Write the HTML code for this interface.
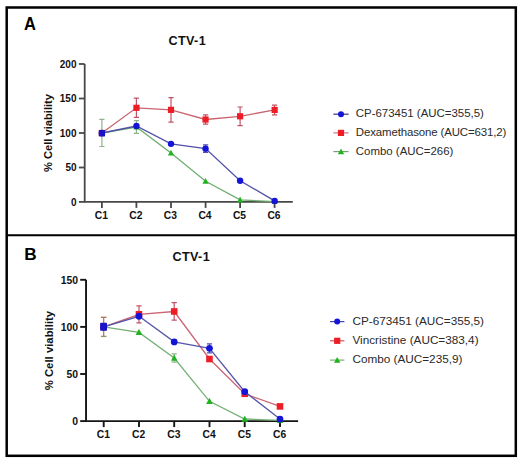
<!DOCTYPE html>
<html><head><meta charset="utf-8"><style>
html,body{margin:0;padding:0;background:#fff;}
body{width:520px;height:458px;overflow:hidden;}
svg{display:block;font-family:"Liberation Sans",sans-serif;}
.pl{font-weight:bold;font-size:17.2px;fill:#000;}
.ti{font-weight:bold;font-size:12.6px;letter-spacing:0.4px;fill:#111;}
.tl{font-weight:bold;font-size:10.3px;fill:#111;}
.yl{font-weight:bold;font-size:11.2px;fill:#111;}
.lg{fill:#2a2a2a;}
</style></head><body>
<svg width="520" height="458" viewBox="0 0 520 458">
<rect width="520" height="458" fill="#fff"/>
<rect x="6.7" y="7.5" width="509.1" height="448.3" fill="none" stroke="#000" stroke-width="2.5"/>
<path d="M6,235.2H516" stroke="#000" stroke-width="2"/>
<text transform="translate(24.1,29.55) scale(0.96,1.075)" class="pl">A</text>
<text x="24.3" y="259.9" class="pl">B</text>
<text x="168.4" y="45.2" class="ti">CTV-1</text>
<text x="172.4" y="260.7" class="ti">CTV-1</text>
<text transform="translate(52.3,133.0) rotate(-90)" text-anchor="middle" class="yl" style="font-size:11.15px">% Cell viability</text>
<text transform="translate(52.8,350.6) rotate(-90)" text-anchor="middle" class="yl" style="font-size:11.35px">% Cell viability</text>
<path d="M84.70,64.0V201.9H292.8" stroke="#484848" stroke-width="1.8" fill="none"/>
<path d="M78.9,201.9H84.7" stroke="#484848" stroke-width="1.8"/>
<text x="76.5" y="205.5" text-anchor="end" class="tl" style="font-size:10.0px">0</text>
<path d="M78.9,167.5H84.7" stroke="#484848" stroke-width="1.8"/>
<text x="76.5" y="171.1" text-anchor="end" class="tl" style="font-size:10.0px">50</text>
<path d="M78.9,133.0H84.7" stroke="#484848" stroke-width="1.8"/>
<text x="76.5" y="136.6" text-anchor="end" class="tl" style="font-size:10.0px">100</text>
<path d="M78.9,98.5H84.7" stroke="#484848" stroke-width="1.8"/>
<text x="76.5" y="102.1" text-anchor="end" class="tl" style="font-size:10.0px">150</text>
<path d="M78.9,64.0H84.7" stroke="#484848" stroke-width="1.8"/>
<text x="76.5" y="67.6" text-anchor="end" class="tl" style="font-size:10.0px">200</text>
<path d="M101.9,201.9V207.9" stroke="#484848" stroke-width="1.8"/>
<text x="101.3" y="218.6" text-anchor="middle" class="tl">C1</text>
<path d="M136.4,201.9V207.9" stroke="#484848" stroke-width="1.8"/>
<text x="135.8" y="218.6" text-anchor="middle" class="tl">C2</text>
<path d="M171.0,201.9V207.9" stroke="#484848" stroke-width="1.8"/>
<text x="170.4" y="218.6" text-anchor="middle" class="tl">C3</text>
<path d="M205.6,201.9V207.9" stroke="#484848" stroke-width="1.8"/>
<text x="205.0" y="218.6" text-anchor="middle" class="tl">C4</text>
<path d="M240.1,201.9V207.9" stroke="#484848" stroke-width="1.8"/>
<text x="239.5" y="218.6" text-anchor="middle" class="tl">C5</text>
<path d="M274.6,201.9V207.9" stroke="#484848" stroke-width="1.8"/>
<text x="274.0" y="218.6" text-anchor="middle" class="tl">C6</text>
<path d="M86.05,279.8V421.1H298.1" stroke="#151515" stroke-width="1.9" fill="none"/>
<path d="M80.2,421.1H86.0" stroke="#151515" stroke-width="1.9"/>
<text x="78.0" y="424.8" text-anchor="end" class="tl" style="font-size:10.4px">0</text>
<path d="M80.2,374.0H86.0" stroke="#151515" stroke-width="1.9"/>
<text x="78.0" y="377.7" text-anchor="end" class="tl" style="font-size:10.4px">50</text>
<path d="M80.2,326.9H86.0" stroke="#151515" stroke-width="1.9"/>
<text x="78.0" y="330.6" text-anchor="end" class="tl" style="font-size:10.4px">100</text>
<path d="M80.2,279.8H86.0" stroke="#151515" stroke-width="1.9"/>
<text x="78.0" y="283.5" text-anchor="end" class="tl" style="font-size:10.4px">150</text>
<path d="M103.7,421.1V427.1" stroke="#151515" stroke-width="1.9"/>
<text x="103.4" y="437.8" text-anchor="middle" class="tl">C1</text>
<path d="M139.0,421.1V427.1" stroke="#151515" stroke-width="1.9"/>
<text x="138.7" y="437.8" text-anchor="middle" class="tl">C2</text>
<path d="M174.2,421.1V427.1" stroke="#151515" stroke-width="1.9"/>
<text x="173.9" y="437.8" text-anchor="middle" class="tl">C3</text>
<path d="M209.5,421.1V427.1" stroke="#151515" stroke-width="1.9"/>
<text x="209.2" y="437.8" text-anchor="middle" class="tl">C4</text>
<path d="M244.7,421.1V427.1" stroke="#151515" stroke-width="1.9"/>
<text x="244.4" y="437.8" text-anchor="middle" class="tl">C5</text>
<path d="M280.0,421.1V427.1" stroke="#151515" stroke-width="1.9"/>
<text x="279.7" y="437.8" text-anchor="middle" class="tl">C6</text>
<polyline points="101.9,133.0 136.4,127.0 171.0,153.0 205.6,181.3 240.1,199.9 274.6,201.6" fill="none" stroke="#6eae6e" stroke-width="1.3"/>
<polyline points="101.9,133.0 136.4,107.8 171.0,109.9 205.6,119.5 240.1,116.3 274.6,109.9" fill="none" stroke="#c86470" stroke-width="1.3"/>
<polyline points="101.9,133.0 136.4,126.0 171.0,143.9 205.6,148.6 240.1,180.7 274.6,200.9" fill="none" stroke="#5050a8" stroke-width="1.3"/>
<path d="M101.9,119.4V146.5M99.3,119.4h5.2M99.3,146.5h5.2" stroke="#90b490" stroke-width="1.2" fill="none"/>
<path d="M136.4,120.7V133.4M133.8,120.7h5.2M133.8,133.4h5.2" stroke="#90b490" stroke-width="1.2" fill="none"/>
<path d="M136.4,98.1V117.4M133.8,98.1h5.2M133.8,117.4h5.2" stroke="#c05468" stroke-width="1.2" fill="none"/>
<path d="M171.0,97.7V122.1M168.4,97.7h5.2M168.4,122.1h5.2" stroke="#c05468" stroke-width="1.2" fill="none"/>
<path d="M205.6,114.8V124.2M203.0,114.8h5.2M203.0,124.2h5.2" stroke="#c05468" stroke-width="1.2" fill="none"/>
<path d="M240.1,107.0V125.6M237.5,107.0h5.2M237.5,125.6h5.2" stroke="#c05468" stroke-width="1.2" fill="none"/>
<path d="M274.6,105.1V114.8M272.0,105.1h5.2M272.0,114.8h5.2" stroke="#c05468" stroke-width="1.2" fill="none"/>
<path d="M205.6,144.8V152.4M203.0,144.8h5.2M203.0,152.4h5.2" stroke="#5050b8" stroke-width="1.2" fill="none"/>
<path d="M101.90,129.67L105.00,135.47H98.80Z" fill="#1fb31f"/>
<path d="M136.45,123.74L139.55,129.54H133.35Z" fill="#1fb31f"/>
<path d="M171.00,149.67L174.10,155.47H167.90Z" fill="#1fb31f"/>
<path d="M205.55,177.96L208.65,183.76H202.45Z" fill="#1fb31f"/>
<path d="M240.10,196.58L243.20,202.38H237.00Z" fill="#1fb31f"/>
<path d="M274.65,198.31L277.75,204.11H271.55Z" fill="#1fb31f"/>
<rect x="98.80" y="129.87" width="6.20" height="6.20" fill="#ee1c24"/>
<rect x="133.35" y="104.69" width="6.20" height="6.20" fill="#ee1c24"/>
<rect x="167.90" y="106.76" width="6.20" height="6.20" fill="#ee1c24"/>
<rect x="202.45" y="116.42" width="6.20" height="6.20" fill="#ee1c24"/>
<rect x="237.00" y="113.18" width="6.20" height="6.20" fill="#ee1c24"/>
<rect x="271.55" y="106.83" width="6.20" height="6.20" fill="#ee1c24"/>
<circle cx="101.90" cy="132.97" r="3.20" fill="#1414d8"/>
<circle cx="136.45" cy="126.00" r="3.20" fill="#1414d8"/>
<circle cx="171.00" cy="143.87" r="3.20" fill="#1414d8"/>
<circle cx="205.55" cy="148.63" r="3.20" fill="#1414d8"/>
<circle cx="240.10" cy="180.70" r="3.20" fill="#1414d8"/>
<circle cx="274.65" cy="200.92" r="3.20" fill="#1414d8"/>
<rect x="98.85" y="130.00" width="6.2" height="6.6" rx="0.8" fill="#1a12c8"/>
<polyline points="103.7,326.9 139.0,332.4 174.2,358.0 209.5,401.3 244.7,419.0 280.0,420.3" fill="none" stroke="#74b074" stroke-width="1.3"/>
<polyline points="103.7,326.9 139.0,314.3 174.2,311.5 209.5,359.0 244.7,393.8 280.0,406.4" fill="none" stroke="#cc6472" stroke-width="1.3"/>
<polyline points="103.7,326.9 139.0,316.3 174.2,341.9 209.5,348.3 244.7,391.7 280.0,419.0" fill="none" stroke="#5656aa" stroke-width="1.3"/>
<path d="M103.7,317.3V326.9" stroke="#b86a60" stroke-width="1.2"/>
<path d="M103.7,326.9V336.4" stroke="#b86a60" stroke-width="1.2"/>
<path d="M100.9,317.3h5.6" stroke="#a88060" stroke-width="1.4"/>
<path d="M100.9,336.4h5.6" stroke="#8a9a68" stroke-width="1.4"/>
<path d="M174.2,353.8V362.1M171.6,353.8h5.2M171.6,362.1h5.2" stroke="#90b490" stroke-width="1.2" fill="none"/>
<path d="M139.0,305.8V322.8M136.4,305.8h5.2M136.4,322.8h5.2" stroke="#c05468" stroke-width="1.2" fill="none"/>
<path d="M174.2,302.7V320.2M171.6,302.7h5.2M171.6,320.2h5.2" stroke="#c05468" stroke-width="1.2" fill="none"/>
<path d="M209.5,343.8V352.8M206.9,343.8h5.2M206.9,352.8h5.2" stroke="#5050b8" stroke-width="1.2" fill="none"/>
<path d="M103.70,323.40L106.99,329.55H100.41Z" fill="#1fb31f"/>
<path d="M138.96,328.87L142.25,335.01H135.67Z" fill="#1fb31f"/>
<path d="M174.22,354.49L177.51,360.64H170.93Z" fill="#1fb31f"/>
<path d="M209.48,397.82L212.77,403.97H206.19Z" fill="#1fb31f"/>
<path d="M244.74,415.53L248.03,421.68H241.45Z" fill="#1fb31f"/>
<path d="M280.00,416.85L283.29,423.00H276.71Z" fill="#1fb31f"/>
<rect x="100.41" y="323.61" width="6.57" height="6.57" fill="#ee1c24"/>
<rect x="135.67" y="310.99" width="6.57" height="6.57" fill="#ee1c24"/>
<rect x="170.93" y="308.17" width="6.57" height="6.57" fill="#ee1c24"/>
<rect x="206.19" y="355.74" width="6.57" height="6.57" fill="#ee1c24"/>
<rect x="241.45" y="390.50" width="6.57" height="6.57" fill="#ee1c24"/>
<rect x="276.71" y="403.12" width="6.57" height="6.57" fill="#ee1c24"/>
<circle cx="103.70" cy="326.90" r="3.39" fill="#1414d8"/>
<circle cx="138.96" cy="316.26" r="3.39" fill="#1414d8"/>
<circle cx="174.22" cy="341.88" r="3.39" fill="#1414d8"/>
<circle cx="209.48" cy="348.28" r="3.39" fill="#1414d8"/>
<circle cx="244.74" cy="391.71" r="3.39" fill="#1414d8"/>
<circle cx="280.00" cy="419.03" r="3.39" fill="#1414d8"/>
<rect x="100.20" y="322.80" width="6.8" height="8.0" rx="0.8" fill="#1a14c8"/>
<path d="M333.4,114.2H348.6" stroke="#363670" stroke-width="1.2"/>
<circle cx="341.0" cy="114.2" r="3" fill="#1414d8"/>
<text x="355.8" y="117.2" class="lg" style="font-size:11.45px">CP-673451 (AUC=355,5)</text>
<path d="M333.4,132.9H348.6" stroke="#c47886" stroke-width="1.2"/>
<rect x="337.9" y="129.8" width="6.2" height="6.2" fill="#ee1c24"/>
<text x="355.8" y="136.0" class="lg" style="font-size:11.45px" textLength="150.6" lengthAdjust="spacing">Dexamethasone (AUC=631,2)</text>
<path d="M333.4,151.6H348.6" stroke="#7aa07a" stroke-width="1.2"/>
<path d="M341.0,148.4L344.2,154.3H337.8Z" fill="#1fb31f"/>
<text x="355.8" y="154.8" class="lg" style="font-size:11.45px">Combo (AUC=266)</text>
<path d="M330.0,321.6H344.4" stroke="#4646a6" stroke-width="1.2"/>
<circle cx="337.2" cy="321.6" r="3" fill="#1414d8"/>
<text x="352.4" y="325.2" class="lg" style="font-size:11.75px">CP-673451 (AUC=355,5)</text>
<path d="M330.0,340.8H344.4" stroke="#cc5464" stroke-width="1.2"/>
<rect x="334.1" y="337.7" width="6.2" height="6.2" fill="#ee1c24"/>
<text x="352.4" y="344.2" class="lg" style="font-size:11.75px">Vincristine (AUC=383,4)</text>
<path d="M330.0,360.1H344.4" stroke="#74b074" stroke-width="1.2"/>
<path d="M337.2,356.9L340.4,362.8H334.0Z" fill="#1fb31f"/>
<text x="352.4" y="363.3" class="lg" style="font-size:11.75px">Combo (AUC=235,9)</text>
</svg>
</body></html>
